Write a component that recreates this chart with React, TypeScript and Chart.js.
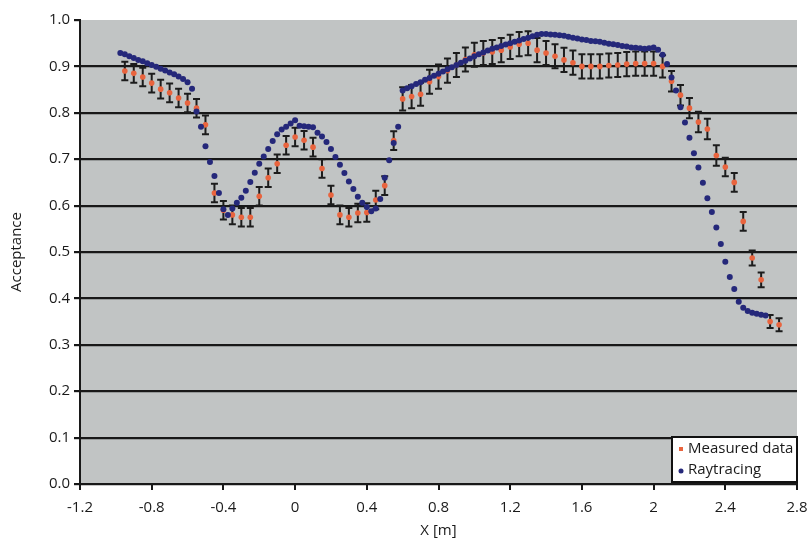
import React, { useEffect, useRef } from 'react';
import { Chart, registerables } from 'chart.js';

Chart.register(...registerables);

const seriesNames = ['Measured data', 'Raytracing'];

const measuredX = [
  -0.95, -0.9, -0.85, -0.8, -0.75, -0.7, -0.65, -0.6, -0.55, -0.5,
  -0.45, -0.4, -0.35, -0.3, -0.25, -0.2, -0.15, -0.1, -0.05, 0,
  0.05, 0.1, 0.15, 0.2, 0.25, 0.3, 0.35, 0.4, 0.45, 0.5,
  0.55, 0.6, 0.65, 0.7, 0.75, 0.8, 0.85, 0.9, 0.95, 1.0,
  1.05, 1.1, 1.15, 1.2, 1.25, 1.3, 1.35, 1.4, 1.45, 1.5,
  1.55, 1.6, 1.65, 1.7, 1.75, 1.8, 1.85, 1.9, 1.95, 2.0,
  2.05, 2.1, 2.15, 2.2, 2.25, 2.3, 2.35, 2.4, 2.45, 2.5,
  2.55, 2.6, 2.65, 2.7,
];
const measuredY = [
  0.89, 0.885, 0.877, 0.864, 0.851, 0.843, 0.832, 0.821, 0.81, 0.774,
  0.627, 0.59, 0.58, 0.575, 0.575, 0.62, 0.66, 0.69, 0.73, 0.748,
  0.741, 0.726, 0.68, 0.623, 0.58, 0.575, 0.584, 0.585, 0.612, 0.643,
  0.74, 0.83, 0.835, 0.84, 0.867, 0.878, 0.891, 0.903, 0.915, 0.925,
  0.929, 0.931, 0.935, 0.942, 0.948, 0.95, 0.935, 0.929, 0.922, 0.914,
  0.908, 0.9, 0.9, 0.9, 0.902, 0.903, 0.905, 0.906, 0.906, 0.906,
  0.9, 0.868, 0.838, 0.81, 0.78, 0.765, 0.708, 0.683, 0.65, 0.566,
  0.487, 0.44, 0.35, 0.343,
];
const measuredErr = [
  0.02, 0.02, 0.02, 0.02, 0.02, 0.02, 0.02, 0.02, 0.02, 0.02,
  0.02, 0.02, 0.02, 0.02, 0.02, 0.02, 0.02, 0.02, 0.02, 0.02,
  0.02, 0.02, 0.02, 0.02, 0.02, 0.02, 0.02, 0.02, 0.02, 0.02,
  0.02, 0.025, 0.025, 0.025, 0.026, 0.026, 0.026, 0.026, 0.026, 0.026,
  0.026, 0.026, 0.026, 0.026, 0.026, 0.026, 0.026, 0.026, 0.026, 0.026,
  0.026, 0.026, 0.026, 0.026, 0.026, 0.026, 0.026, 0.026, 0.026, 0.026,
  0.024, 0.022, 0.022, 0.022, 0.022, 0.022, 0.022, 0.02, 0.02, 0.02,
  0.016, 0.016, 0.014, 0.014,
];

const rayX = [
  -0.975, -0.95, -0.925, -0.9, -0.875, -0.85, -0.825, -0.8, -0.775, -0.75,
  -0.725, -0.7, -0.675, -0.65, -0.625, -0.6, -0.575, -0.55, -0.525, -0.5,
  -0.475, -0.45, -0.425, -0.4, -0.375, -0.35, -0.325, -0.3, -0.275, -0.25,
  -0.225, -0.2, -0.175, -0.15, -0.125, -0.1, -0.075, -0.05, -0.025, 0,
  0.025, 0.05, 0.075, 0.1, 0.125, 0.15, 0.175, 0.2, 0.225, 0.25,
  0.275, 0.3, 0.325, 0.35, 0.375, 0.4, 0.425, 0.45, 0.475, 0.5,
  0.525, 0.55, 0.575, 0.6, 0.625, 0.65, 0.675, 0.7, 0.725, 0.75,
  0.775, 0.8, 0.825, 0.85, 0.875, 0.9, 0.925, 0.95, 0.975, 1.0,
  1.025, 1.05, 1.075, 1.1, 1.125, 1.15, 1.175, 1.2, 1.225, 1.25,
  1.275, 1.3, 1.325, 1.35, 1.375, 1.4, 1.425, 1.45, 1.475, 1.5,
  1.525, 1.55, 1.575, 1.6, 1.625, 1.65, 1.675, 1.7, 1.725, 1.75,
  1.775, 1.8, 1.825, 1.85, 1.875, 1.9, 1.925, 1.95, 1.975, 2.0,
  2.025, 2.05, 2.075, 2.1, 2.125, 2.15, 2.175, 2.2, 2.225, 2.25,
  2.275, 2.3, 2.325, 2.35, 2.375, 2.4, 2.425, 2.45, 2.475, 2.5,
  2.525, 2.55, 2.575, 2.6, 2.625,
];
const rayY = [
  0.929, 0.926, 0.922, 0.918, 0.914, 0.911, 0.907, 0.903, 0.899, 0.895,
  0.891, 0.887, 0.883, 0.878, 0.873, 0.866, 0.852, 0.803, 0.77, 0.728,
  0.694, 0.664, 0.627, 0.592, 0.58, 0.594, 0.606, 0.617, 0.632, 0.651,
  0.671, 0.69, 0.706, 0.722, 0.739, 0.754, 0.764, 0.77, 0.777, 0.784,
  0.772, 0.771, 0.77, 0.769, 0.757, 0.749, 0.737, 0.722, 0.705, 0.688,
  0.67, 0.652, 0.636, 0.619, 0.606, 0.597, 0.588, 0.594, 0.614, 0.66,
  0.698, 0.735, 0.77, 0.848, 0.853, 0.857, 0.862, 0.866, 0.871, 0.875,
  0.88, 0.884, 0.889, 0.894, 0.898, 0.903, 0.908, 0.912, 0.917, 0.922,
  0.926, 0.93, 0.934, 0.938, 0.941, 0.944, 0.947, 0.95, 0.953, 0.956,
  0.959, 0.962, 0.965, 0.968, 0.97, 0.97, 0.969, 0.968, 0.967, 0.966,
  0.964, 0.962, 0.96, 0.958, 0.957, 0.955, 0.954, 0.953, 0.951, 0.949,
  0.948, 0.946, 0.944, 0.943, 0.941, 0.94, 0.939, 0.938, 0.939, 0.941,
  0.936, 0.925, 0.905, 0.876, 0.848, 0.812, 0.779, 0.746, 0.713, 0.682,
  0.649, 0.616, 0.586, 0.553, 0.517, 0.479, 0.446, 0.42, 0.393, 0.38,
  0.373, 0.369, 0.367, 0.365, 0.363,
];

const xTickValues = [-1.2, -0.8, -0.4, 0, 0.4, 0.8, 1.2, 1.6, 2, 2.4, 2.8];
const xTickLabels = ['-1.2', '-0.8', '-0.4', '0', '0.4', '0.8', '1.2', '1.6', '2', '2.4', '2.8'];
const yTickValues = [0, 0.1, 0.2, 0.3, 0.4, 0.5, 0.6, 0.7, 0.8, 0.9, 1.0];
const yTickLabels = ['0.0', '0.1', '0.2', '0.3', '0.4', '0.5', '0.6', '0.7', '0.8', '0.9', '1.0'];

const FONT = "'Open Sans', 'DejaVu Sans', sans-serif";
const PLOT_BG = '#c1c4c4';
const GRID = '#181818';
const RED = '#e9643e';
const BLUE = '#25287a';
const TEXT = '#1a1a1a';

const bgPlugin = {
  id: 'bgPlugin',
  beforeDraw(chart: any) {
    const { ctx, chartArea } = chart;
    ctx.save();
    ctx.fillStyle = '#ffffff';
    ctx.fillRect(0, 0, chart.width, chart.height);
    ctx.fillStyle = PLOT_BG;
    ctx.fillRect(chartArea.left, chartArea.top, chartArea.right - chartArea.left, chartArea.bottom - chartArea.top);
    ctx.restore();
  },
};

const errorBarPlugin = {
  id: 'errorBarPlugin',
  beforeDatasetsDraw(chart: any) {
    const { ctx } = chart;
    const xs = chart.scales.x;
    const ys = chart.scales.y;
    ctx.save();
    ctx.strokeStyle = '#1c1c1c';
    ctx.lineWidth = 2;
    for (let i = 0; i < measuredX.length; i++) {
      const px = xs.getPixelForValue(measuredX[i]);
      const top = ys.getPixelForValue(measuredY[i] + measuredErr[i]);
      const bot = ys.getPixelForValue(measuredY[i] - measuredErr[i]);
      ctx.beginPath();
      ctx.moveTo(px, top);
      ctx.lineTo(px, bot);
      ctx.moveTo(px - 3.5, top);
      ctx.lineTo(px + 3.5, top);
      ctx.moveTo(px - 3.5, bot);
      ctx.lineTo(px + 3.5, bot);
      ctx.stroke();
    }
    ctx.restore();
  },
};

const legendPlugin = {
  id: 'legendBoxPlugin',
  afterDraw(chart: any) {
    const { ctx, chartArea } = chart;
    const w = 125;
    const h = 45;
    const right = chartArea.right;
    const bottom = chartArea.bottom - 2;
    const left = right - w;
    const top = bottom - h;
    ctx.save();
    ctx.fillStyle = '#ffffff';
    ctx.fillRect(left, top, w, h);
    ctx.strokeStyle = '#111111';
    ctx.lineWidth = 2;
    ctx.strokeRect(left, top, w, h);
    ctx.font = `15px ${FONT}`;
    ctx.textBaseline = 'middle';
    ctx.textAlign = 'left';
    ctx.fillStyle = TEXT;
    ctx.fillText(seriesNames[0], left + 16, top + 12);
    ctx.fillText(seriesNames[1], left + 16, top + 33);
    ctx.fillStyle = RED;
    ctx.fillRect(left + 7, top + 10, 4, 4);
    ctx.fillStyle = BLUE;
    ctx.beginPath();
    ctx.arc(left + 9, top + 34, 2.5, 0, Math.PI * 2);
    ctx.fill();
    ctx.restore();
  },
};

export default function App() {
  const canvasRef = useRef<HTMLCanvasElement | null>(null);

  useEffect(() => {
    document.body.style.margin = '0';
    const canvas = canvasRef.current;
    if (!canvas) return;
    const measuredData = measuredX.map((x, i) => ({ x, y: measuredY[i] }));
    const rayData = rayX.map((x, i) => ({ x, y: rayY[i] }));

    const chart = new Chart(canvas, {
      type: 'scatter',
      data: {
        datasets: [
          {
            label: seriesNames[0],
            data: measuredData,
            backgroundColor: RED,
            borderColor: RED,
            pointRadius: 2.8,
            pointBorderWidth: 0,
            order: 2,
          },
          {
            label: seriesNames[1],
            data: rayData,
            backgroundColor: BLUE,
            borderColor: BLUE,
            pointRadius: 3,
            pointBorderWidth: 0,
            order: 1,
          },
        ],
      },
      options: {
        responsive: false,
        animation: false,
        devicePixelRatio: 1,
        layout: { padding: { left: 0, right: 14, top: 20, bottom: 0 } },
        plugins: {
          legend: { display: false },
          tooltip: { enabled: false },
        },
        scales: {
          x: {
            type: 'linear',
            min: -1.2,
            max: 2.8,
            afterBuildTicks: (scale: any) => {
              scale.ticks = xTickValues.map((v) => ({ value: v }));
            },
            afterFit: (scale: any) => {
              scale.height = 58;
              scale.paddingLeft = 0;
              scale.paddingRight = 0;
            },
            ticks: {
              autoSkip: false,
              maxRotation: 0,
              padding: 9,
              color: TEXT,
              font: { family: FONT, size: 15 },
              callback: (v: any) => {
                const idx = xTickValues.findIndex((t) => Math.abs(t - Number(v)) < 1e-6);
                return idx >= 0 ? xTickLabels[idx] : '';
              },
            },
            grid: {
              display: true,
              drawOnChartArea: false,
              drawTicks: true,
              tickLength: 6,
              color: GRID,
              lineWidth: 2,
            },
            border: { display: true, color: GRID, width: 2 },
            title: {
              display: true,
              text: 'X [m]',
              color: TEXT,
              font: { family: FONT, size: 15 },
              padding: { top: 0, bottom: 2 },
            },
          },
          y: {
            type: 'linear',
            min: 0,
            max: 1,
            afterBuildTicks: (scale: any) => {
              scale.ticks = yTickValues.map((v) => ({ value: v }));
            },
            afterFit: (scale: any) => {
              scale.width = 80;
              scale.paddingTop = 0;
              scale.paddingBottom = 0;
            },
            ticks: {
              autoSkip: false,
              padding: 4,
              color: TEXT,
              font: { family: FONT, size: 15 },
              callback: (v: any) => {
                const idx = yTickValues.findIndex((t) => Math.abs(t - Number(v)) < 1e-6);
                return idx >= 0 ? yTickLabels[idx] : '';
              },
            },
            grid: {
              display: true,
              drawTicks: true,
              tickLength: 6,
              color: (c: any) => (c.tick && Math.abs(c.tick.value - 1) < 1e-6 ? 'rgba(0,0,0,0)' : GRID),
              tickColor: GRID,
              lineWidth: 2.2,
            },
            border: { display: true, color: GRID, width: 2 },
            title: {
              display: true,
              text: 'Acceptance',
              color: TEXT,
              font: { family: FONT, size: 15 },
              padding: { top: 8, bottom: 0 },
            },
          },
        },
      },
      plugins: [bgPlugin, errorBarPlugin, legendPlugin],
    } as any);

    return () => {
      chart.destroy();
    };
  }, []);

  return (
    <div style={{ width: 811, height: 542, overflow: 'hidden' }}>
      <canvas ref={canvasRef} width={811} height={542} style={{ display: 'block' }} />
    </div>
  );
}
